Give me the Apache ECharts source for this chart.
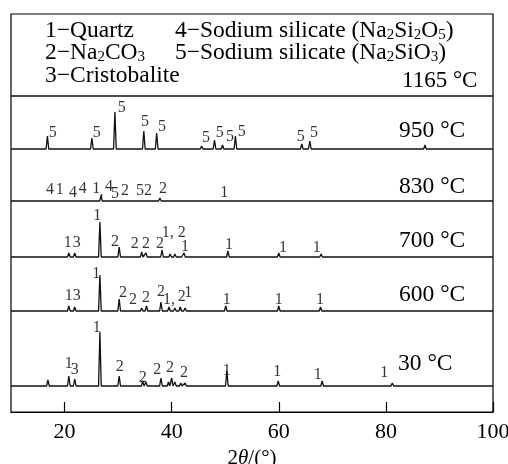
<!DOCTYPE html>
<html>
<head>
<meta charset="utf-8">
<script src="https://cdn.jsdelivr.net/npm/echarts@6/dist/echarts.min.js"></script>
<style>
html,body{margin:0;padding:0;background:#fff}
#chart{width:508px;height:464px}
</style>
</head>
<body>
<div id="chart"></div>
<script>
// XRD patterns of the calcined samples, stacked bottom to top.
// Peaks: [2θ (°), intensity above the pattern's own baseline (a.u.)]
const xTicks = [20, 40, 60, 80, 100];

const temps = ['30 °C', '600 °C', '700 °C', '830 °C', '950 °C', '1165 °C'];
// vertical stacking offset of each pattern (a.u.)
const offsets = [26, 101, 155, 211, 263, 316];

const peaks30 = [[16.9,6],[20.8,10],[21.9,7],[26.6,54],[30.2,10],[33.2,2],[34.6,5],[35.2,4],[36.5,2],[38.0,8],[39.4,4],[40.0,8],[40.6,4],[41.7,3],[42.5,3],[45.8,2],[50.3,15],[54.9,2],[59.9,5],[64.0,2],[68.1,5],[73.5,1],[75.7,1],[77.7,1],[80.1,2],[81.2,3],[84.0,1],[90.0,1]];
const peaks600 = [[20.8,5],[21.9,4],[26.6,36],[30.2,12],[31.5,1],[33.2,2],[34.4,3],[35.3,5],[36.5,2],[38.0,9],[39.5,4],[40.6,3],[41.6,4],[42.5,3],[45.8,2],[50.1,5],[55.0,1],[60.0,5],[64.0,1],[67.8,4],[73.5,1],[80.1,1],[90.0,1]];
const peaks700 = [[20.8,4],[21.9,4],[26.6,35],[27.5,1],[30.2,10],[33.2,2],[34.4,5],[35.2,4],[36.5,2],[38.2,7],[39.7,3],[40.6,3],[41.6,2],[42.3,4],[45.8,1],[50.5,6],[54.9,1],[60.0,4],[67.9,3],[80.2,1],[96.0,1]];
const peaks830 = [[16.7,2],[18.3,1],[20.8,2],[21.9,2],[23.4,2],[25.2,1],[26.8,5],[28.2,2],[29.8,2],[31.4,1],[32.8,1],[34.3,2],[35.3,2],[37.8,3],[39.8,1],[41.6,1],[46.0,1],[49.6,1],[55.0,1],[60.0,1]];
const peaks950 = [[16.8,13],[25.1,11],[29.4,37],[34.8,18],[37.2,16],[39.1,2],[45.6,3],[48.0,9],[49.5,4],[51.9,13],[55.5,1],[60.2,2],[64.3,5],[65.8,8],[74.0,1],[87.3,4],[91.0,1]];
const peaks1165 = [];

// Phase markers: [2θ, height above baseline, phase number]
const marks30 = [[20.8,17,'1'],[21.9,11,'3'],[26.0,53,'1'],[30.3,14,'2'],[34.6,3,'2'],[37.3,11,'2'],[39.7,13,'2'],[42.3,8,'2'],[50.3,10,'1'],[59.7,9,'1'],[67.3,6,'1'],[79.7,8,'1']];
const marks600 = [[20.8,10,'1'],[22.3,10,'3'],[25.9,32,'1'],[30.9,13,'2'],[32.8,6,'2'],[35.2,8,'2'],[38.0,14,'2'],[39.5,6,'1,'],[41.9,9,'2'],[43.1,13,'1'],[50.3,6,'1'],[60.0,6,'1'],[67.7,6,'1']];
const marks700 = [[20.6,9,'1'],[22.3,9,'3'],[26.1,36,'1'],[29.4,10,'2'],[33.1,8,'2'],[35.2,8,'2'],[37.8,8,'2'],[40.4,19,'1, 2'],[42.5,5,'1'],[50.7,7,'1'],[60.8,4,'1'],[67.1,4,'1']];
const marks830 = [[17.3,6,'4'],[19.1,6,'1'],[21.6,3,'4'],[23.4,7,'4'],[25.9,7,'1'],[26.9,4,','],[28.3,9,'4'],[29.4,2,'5'],[31.3,5,'2'],[34.1,5,'5'],[35.6,5,'2'],[38.4,7,'2'],[49.8,3,'1']];
const marks950 = [[17.8,11,'5'],[26.0,11,'5'],[30.7,36,'5'],[35.0,22,'5'],[38.2,17,'5'],[46.4,6,'5'],[49.0,11,'5'],[50.9,7,'5'],[53.1,12,'5'],[64.1,7,'5'],[66.6,11,'5']];
const marks1165 = [];

const peakSets = [peaks30, peaks600, peaks700, peaks830, peaks950, peaks1165];
const markSets = [marks30, marks600, marks700, marks830, marks950, marks1165];

const SERIF = '"Liberation Serif"';
const INK = '#111';
const HALF = 0.25; // half width of a reflection at its foot (°)

function profile(peaks, base) {
  const pts = [[10, base]];
  peaks.slice().sort((a, b) => a[0] - b[0]).forEach(([x, h]) => {
    pts.push([x - HALF, base], [x, base + h], [x + HALF, base]);
  });
  pts.push([100, base]);
  return pts;
}

const series = [];
peakSets.forEach((pk, i) => {
  series.push({
    name: temps[i],
    type: 'line',
    data: profile(pk, offsets[i]),
    showSymbol: false,
    silent: true,
    lineStyle: { color: INK, width: 1.3 },
    z: 2
  });
  series.push({
    type: 'scatter',
    data: markSets[i].map(m => ({ value: [m[0], offsets[i] + m[1]], name: m[2] })),
    symbolSize: 0,
    silent: true,
    label: {
      show: true,
      position: 'top',
      distance: 0,
      offset: [0, 3],
      formatter: '{b}',
      fontFamily: SERIF,
      fontSize: 16,
      color: '#000'
    },
    z: 3
  });
});

const legendRich = {
  s: { fontSize: 15, lineHeight: 10, verticalAlign: 'bottom', fontFamily: SERIF, fill: '#000', color: '#000' }
};
function txt(text, x, y, size) {
  return {
    type: 'text', x: x, y: y, silent: true,
    style: {
      text: text, fontFamily: SERIF, fontSize: size, lineHeight: 24,
      fill: '#000', verticalAlign: 'middle', align: 'left', rich: legendRich
    }
  };
}

const chart = echarts.init(document.getElementById('chart'), null, { renderer: 'canvas' });
chart.setOption({
  animation: false,
  backgroundColor: '#fff',
  textStyle: { fontFamily: SERIF },
  grid: {
    left: 11, right: 15, top: 14, bottom: 52,
    outerBoundsMode: 'none',
    show: true, borderColor: '#000', borderWidth: 1.2
  },
  xAxis: {
    type: 'value', min: 10, max: 100,
    name: '{a|2}{b|θ}{a|/(°)}',
    nameLocation: 'middle', nameGap: 35,
    nameTextStyle: {
      rich: {
        a: { fontFamily: SERIF, fontSize: 21, color: '#000' },
        b: { fontFamily: SERIF, fontSize: 21, fontStyle: 'italic', color: '#000' }
      }
    },
    axisLine: { show: true, lineStyle: { color: '#000', width: 1.2 } },
    axisTick: { show: true, inside: true, length: 10, customValues: xTicks, lineStyle: { color: '#000', width: 1.2 } },
    axisLabel: { customValues: xTicks, fontFamily: SERIF, fontSize: 22, color: '#000', margin: 9 },
    splitLine: { show: false }
  },
  yAxis: { type: 'value', min: 0, max: 398, show: false },
  series: series,
  graphic: [
    txt('1\u2212Quartz', 45, 31, 23.5),
    txt('2\u2212Na{s|2}CO{s|3}', 45, 53, 23.5),
    txt('3\u2212Cristobalite', 45, 76, 23.5),
    txt('4\u2212Sodium silicate (Na{s|2}Si{s|2}O{s|5})', 175, 31, 23.5),
    txt('5\u2212Sodium silicate (Na{s|2}SiO{s|3})', 175, 53, 23.5),
    txt(temps[5], 402, 81, 23),
    txt(temps[4], 399, 131, 23.5),
    txt(temps[3], 399, 187, 23.5),
    txt(temps[2], 399, 241, 23.5),
    txt(temps[1], 399, 295, 23.5),
    txt(temps[0], 398, 364, 23.5)
  ]
});
</script>
</body>
</html>
